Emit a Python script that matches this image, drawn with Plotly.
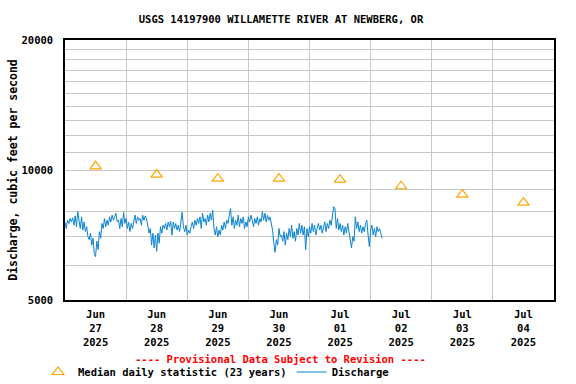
import pandas as pd
import plotly.graph_objects as go

# ---- data ----
title_text = "USGS 14197900 WILLAMETTE RIVER AT NEWBERG, OR"
y_title = "Discharge, cubic feet per second"
provisional = "---- Provisional Data Subject to Revision ----"

median_dates = ["2025-06-27 12:00", "2025-06-28 12:00", "2025-06-29 12:00", "2025-06-30 12:00",
                "2025-07-01 12:00", "2025-07-02 12:00", "2025-07-03 12:00", "2025-07-04 12:00"]
median_values = [10200, 9760, 9550, 9550, 9500, 9170, 8770, 8400]

discharge_start = "2025-06-27 00:00"
discharge_step = "30min"
discharge_values = [
    7580, 7320, 7650, 7520, 7720, 7580, 7750, 7450, 7830, 7390, 8010, 7580, 7320, 7790, 7260, 7580,
    7200, 7390, 7010, 6900, 7140, 6700, 6950, 6420, 6300, 6840, 6540, 7200, 6950, 7520, 7320, 7720,
    7390, 7650, 7450, 7790, 7580, 7860, 7650, 7790, 7940, 7580,
    7650, 7320, 7720, 7390, 7980, 7520, 7720, 7320, 7580, 7200, 7520, 7320, 7650, 7860, 7520, 7790,
    7650, 7720, 7450, 7860, 7650, 7830, 7720, 7320, 7140, 7320, 6700, 7140, 6600, 7070, 6480, 7140,
    6770, 7390, 7140, 7450, 7320, 7520, 7260, 7580, 7390, 7610, 7070,
    7580, 7320, 7520, 7260, 7450, 7200, 7580, 7980, 7390, 7200, 7450, 7070, 7260, 7140, 7390, 7580,
    7320, 7650, 7450, 7720, 7520, 7790, 7320, 7940, 7580, 7720, 7450, 7860, 7580, 7940, 7650, 8070,
    7320, 7070, 7390, 7010, 7260, 7070, 7450, 7260, 7580, 7320, 7650,
    7520, 7860, 8140, 7450, 7790, 7320, 7650, 7450, 7860, 7390, 7720, 7520, 7790, 7320, 7580, 7390,
    7790, 7580, 7860, 7650, 7390, 7720, 7520, 7790, 7450, 7720, 7580, 8010, 7650, 7940, 7580, 7860,
    7650, 7790, 7520, 7260, 6770, 6450, 6900, 6700, 7320, 7010,
    7070, 6840, 7200, 6700, 7140, 6900, 7320, 7010, 7450, 6950, 7200, 6840, 7320, 7070, 7520, 7140,
    7450, 7070, 7390, 6540, 7320, 7010, 7390, 7140, 7520, 7200, 7450, 7070, 7320, 7520, 7260, 7450,
    7140, 7390, 7580, 7200, 7520, 7320, 7650, 7450, 7860, 8220,
    8140, 7320, 7720, 7260, 7520, 7200, 7450, 7070, 7390, 7140, 7520, 7200, 6950, 6600, 7010, 6840,
    7790, 7320, 7580, 7200, 7450, 7140, 7390, 7200, 7520, 7650, 7070, 6650, 7260, 7450, 7070, 7320,
    7010, 7390, 7200, 7320, 7140, 6950,
]
discharge_times = pd.date_range(discharge_start, periods=len(discharge_values), freq=discharge_step)

y_grid_values = [5000, 6000, 7000, 8000, 9000, 10000, 11000, 12000, 13000, 14000, 15000,
                 16000, 17000, 18000, 19000, 20000]
y_labels = {5000: "5000", 10000: "10000", 20000: "20000"}

FONT = "DejaVu Sans Mono"
W, H = 576, 384
L, R, T, B = 65, 22, 40, 84

fig = go.Figure()
fig.add_trace(go.Scatter(
    x=median_dates, y=median_values, mode="markers",
    name="Median daily statistic (23 years)",
    marker=dict(symbol="triangle-up-open", size=10, color="#FFA500", line=dict(width=1.2)),
))
fig.add_trace(go.Scatter(
    x=discharge_times, y=discharge_values, mode="lines",
    name="Discharge", line=dict(color="#0A84D2", width=1),
))

fig.update_layout(
    width=W, height=H,
    margin=dict(l=L, r=R, t=T, b=B, autoexpand=False),
    paper_bgcolor="white", plot_bgcolor="white",
    font=dict(family=FONT, size=10.5, color="black", weight="bold"),
    title=dict(text=title_text, x=281 / W, xanchor="center", y=1 - 19 / H, yanchor="middle",
               xref="container", yref="container",
               font=dict(family=FONT, size=10.5, color="black", weight="bold")),
    showlegend=True,
    legend=dict(orientation="h", xref="container", yref="container",
                x=38 / W, xanchor="left", y=1 - 372 / H, yanchor="middle",
                font=dict(family=FONT, size=10.5, weight="bold"), bgcolor="rgba(0,0,0,0)",
                itemclick=False, tracegroupgap=0),
    xaxis=dict(
        type="date", automargin=False,
        range=["2025-06-27 00:00", "2025-07-05 00:00"],
        tick0="2025-06-27 12:00", dtick=86400000, tickformat="%b<br>%d<br>%Y",
        showgrid=False, ticks="", showline=True, linecolor="black", linewidth=1.5, mirror=True,
        minor=dict(tick0="2025-06-27 00:00", dtick=86400000, showgrid=True,
                   gridcolor="#C8C8C8", gridwidth=1, ticks=""),
        zeroline=False, ticklabelstandoff=4,
        tickfont=dict(family=FONT, size=10.5, weight="bold"),
    ),
    yaxis=dict(
        type="log", automargin=False,
        range=[3.69897, 4.30103],
        tickmode="array", tickvals=y_grid_values,
        ticktext=[y_labels.get(v, "") for v in y_grid_values],
        showgrid=True, gridcolor="#C8C8C8", gridwidth=1,
        ticks="", ticklabelstandoff=8,
        showline=True, linecolor="black", linewidth=1.5, mirror=True,
        zeroline=False,
        title=dict(text=y_title, standoff=2,
                   font=dict(family=FONT, size=11.5, weight="bold")),
        tickfont=dict(family=FONT, size=10.5, weight="bold"),
    ),
    annotations=[dict(
        text=provisional, xref="paper", yref="paper", x=(280 - L) / (W - L - R),
        y=-(359 - (H - B)) / (H - T - B),
        xanchor="center", yanchor="middle", showarrow=False,
        font=dict(family=FONT, size=10.5, color="#FF0000", weight="bold"),
    )],
)

fig.write_html("out.html", config={"displayModeBar": False},
               post_script="document.body.style.margin='0';")
